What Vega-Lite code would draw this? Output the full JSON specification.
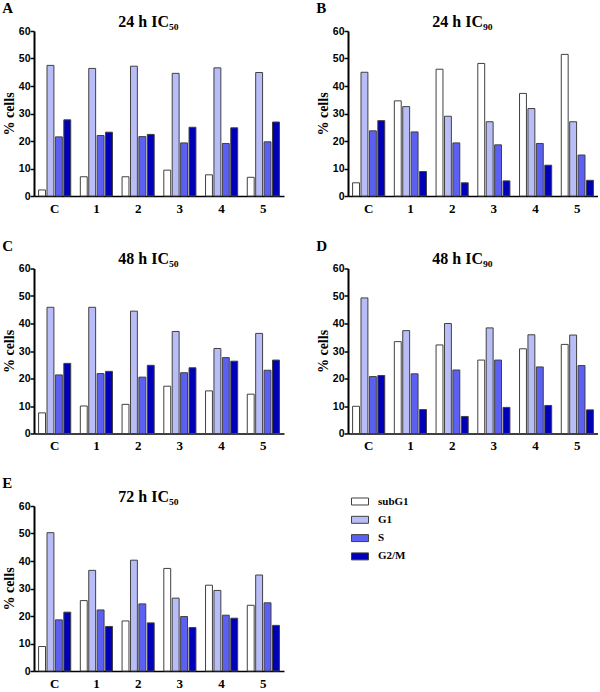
{
  "$schema": "https://vega.github.io/schema/vega-lite/v6.json",
  "background": "white",
  "padding": {"left": 2, "top": 1, "right": 0, "bottom": 0},
  "data": {"values": [
    {"p":"A","g":"C","ph":"subG1","v":2.2},{"p":"A","g":"C","ph":"G1","v":47.5},{"p":"A","g":"C","ph":"S","v":21.5},{"p":"A","g":"C","ph":"G2/M","v":27.7},
    {"p":"A","g":"1","ph":"subG1","v":7.0},{"p":"A","g":"1","ph":"G1","v":46.4},{"p":"A","g":"1","ph":"S","v":22.0},{"p":"A","g":"1","ph":"G2/M","v":23.2},
    {"p":"A","g":"2","ph":"subG1","v":7.0},{"p":"A","g":"2","ph":"G1","v":47.2},{"p":"A","g":"2","ph":"S","v":21.6},{"p":"A","g":"2","ph":"G2/M","v":22.4},
    {"p":"A","g":"3","ph":"subG1","v":9.4},{"p":"A","g":"3","ph":"G1","v":44.6},{"p":"A","g":"3","ph":"S","v":19.3},{"p":"A","g":"3","ph":"G2/M","v":25.0},
    {"p":"A","g":"4","ph":"subG1","v":7.7},{"p":"A","g":"4","ph":"G1","v":46.6},{"p":"A","g":"4","ph":"S","v":19.1},{"p":"A","g":"4","ph":"G2/M","v":24.8},
    {"p":"A","g":"5","ph":"subG1","v":6.8},{"p":"A","g":"5","ph":"G1","v":44.9},{"p":"A","g":"5","ph":"S","v":19.7},{"p":"A","g":"5","ph":"G2/M","v":26.9},
    {"p":"B","g":"C","ph":"subG1","v":4.8},{"p":"B","g":"C","ph":"G1","v":45.0},{"p":"B","g":"C","ph":"S","v":23.7},{"p":"B","g":"C","ph":"G2/M","v":27.4},
    {"p":"B","g":"1","ph":"subG1","v":34.6},{"p":"B","g":"1","ph":"G1","v":32.5},{"p":"B","g":"1","ph":"S","v":23.3},{"p":"B","g":"1","ph":"G2/M","v":8.9},
    {"p":"B","g":"2","ph":"subG1","v":46.1},{"p":"B","g":"2","ph":"G1","v":29.0},{"p":"B","g":"2","ph":"S","v":19.3},{"p":"B","g":"2","ph":"G2/M","v":4.8},
    {"p":"B","g":"3","ph":"subG1","v":48.2},{"p":"B","g":"3","ph":"G1","v":27.0},{"p":"B","g":"3","ph":"S","v":18.6},{"p":"B","g":"3","ph":"G2/M","v":5.5},
    {"p":"B","g":"4","ph":"subG1","v":37.3},{"p":"B","g":"4","ph":"G1","v":31.8},{"p":"B","g":"4","ph":"S","v":19.1},{"p":"B","g":"4","ph":"G2/M","v":11.2},
    {"p":"B","g":"5","ph":"subG1","v":51.5},{"p":"B","g":"5","ph":"G1","v":27.0},{"p":"B","g":"5","ph":"S","v":14.9},{"p":"B","g":"5","ph":"G2/M","v":5.7},
    {"p":"C","g":"C","ph":"subG1","v":7.5},{"p":"C","g":"C","ph":"G1","v":45.9},{"p":"C","g":"C","ph":"S","v":21.3},{"p":"C","g":"C","ph":"G2/M","v":25.5},
    {"p":"C","g":"1","ph":"subG1","v":10.0},{"p":"C","g":"1","ph":"G1","v":45.9},{"p":"C","g":"1","ph":"S","v":21.8},{"p":"C","g":"1","ph":"G2/M","v":22.6},
    {"p":"C","g":"2","ph":"subG1","v":10.6},{"p":"C","g":"2","ph":"G1","v":44.5},{"p":"C","g":"2","ph":"S","v":20.5},{"p":"C","g":"2","ph":"G2/M","v":24.8},
    {"p":"C","g":"3","ph":"subG1","v":17.2},{"p":"C","g":"3","ph":"G1","v":37.1},{"p":"C","g":"3","ph":"S","v":22.1},{"p":"C","g":"3","ph":"G2/M","v":23.9},
    {"p":"C","g":"4","ph":"subG1","v":15.5},{"p":"C","g":"4","ph":"G1","v":30.9},{"p":"C","g":"4","ph":"S","v":27.6},{"p":"C","g":"4","ph":"G2/M","v":26.3},
    {"p":"C","g":"5","ph":"subG1","v":14.3},{"p":"C","g":"5","ph":"G1","v":36.4},{"p":"C","g":"5","ph":"S","v":23.0},{"p":"C","g":"5","ph":"G2/M","v":26.7},
    {"p":"D","g":"C","ph":"subG1","v":9.9},{"p":"D","g":"C","ph":"G1","v":49.3},{"p":"D","g":"C","ph":"S","v":20.7},{"p":"D","g":"C","ph":"G2/M","v":21.1},
    {"p":"D","g":"1","ph":"subG1","v":33.4},{"p":"D","g":"1","ph":"G1","v":37.4},{"p":"D","g":"1","ph":"S","v":21.7},{"p":"D","g":"1","ph":"G2/M","v":8.7},
    {"p":"D","g":"2","ph":"subG1","v":32.2},{"p":"D","g":"2","ph":"G1","v":40.0},{"p":"D","g":"2","ph":"S","v":23.1},{"p":"D","g":"2","ph":"G2/M","v":6.2},
    {"p":"D","g":"3","ph":"subG1","v":26.7},{"p":"D","g":"3","ph":"G1","v":38.4},{"p":"D","g":"3","ph":"S","v":26.7},{"p":"D","g":"3","ph":"G2/M","v":9.5},
    {"p":"D","g":"4","ph":"subG1","v":30.8},{"p":"D","g":"4","ph":"G1","v":35.9},{"p":"D","g":"4","ph":"S","v":24.2},{"p":"D","g":"4","ph":"G2/M","v":10.2},
    {"p":"D","g":"5","ph":"subG1","v":32.4},{"p":"D","g":"5","ph":"G1","v":35.8},{"p":"D","g":"5","ph":"S","v":24.7},{"p":"D","g":"5","ph":"G2/M","v":8.6},
    {"p":"E","g":"C","ph":"subG1","v":8.9},{"p":"E","g":"C","ph":"G1","v":50.3},{"p":"E","g":"C","ph":"S","v":18.6},{"p":"E","g":"C","ph":"G2/M","v":21.4},
    {"p":"E","g":"1","ph":"subG1","v":25.6},{"p":"E","g":"1","ph":"G1","v":36.6},{"p":"E","g":"1","ph":"S","v":22.2},{"p":"E","g":"1","ph":"G2/M","v":16.2},
    {"p":"E","g":"2","ph":"subG1","v":18.2},{"p":"E","g":"2","ph":"G1","v":40.3},{"p":"E","g":"2","ph":"S","v":24.4},{"p":"E","g":"2","ph":"G2/M","v":17.5},
    {"p":"E","g":"3","ph":"subG1","v":37.3},{"p":"E","g":"3","ph":"G1","v":26.5},{"p":"E","g":"3","ph":"S","v":19.8},{"p":"E","g":"3","ph":"G2/M","v":15.8},
    {"p":"E","g":"4","ph":"subG1","v":31.2},{"p":"E","g":"4","ph":"G1","v":29.3},{"p":"E","g":"4","ph":"S","v":20.3},{"p":"E","g":"4","ph":"G2/M","v":19.2},
    {"p":"E","g":"5","ph":"subG1","v":23.9},{"p":"E","g":"5","ph":"G1","v":34.9},{"p":"E","g":"5","ph":"S","v":24.8},{"p":"E","g":"5","ph":"G2/M","v":16.6}
  ]},
  "config": {
    "view": {"stroke": null},
    "bar": {"stroke": "#404040", "strokeWidth": 1},
    "title": {"font": "Liberation Serif", "fontSize": 15, "fontWeight": "bold", "color": "black", "anchor": "start", "frame": "bounds", "offset": -3, "dx": 0},
    "axisX": {"domainColor": "black", "domainWidth": 1.5, "ticks": false, "grid": false, "labelFont": "Liberation Serif", "labelFontWeight": "bold", "labelFontSize": 13, "labelColor": "black", "labelAngle": 0, "labelPadding": 6,
      "titleFont": "Liberation Serif", "titleFontSize": 16, "titleFontWeight": "bold", "titleColor": "black", "titleX": 114, "titleY": -170, "titleAlign": "center", "titleBaseline": "alphabetic", "titleAngle": 0},
    "axisY": {"domainColor": "black", "domainWidth": 2, "tickColor": "black", "tickWidth": 1.5, "tickSize": 4, "grid": false, "values": [0,10,20,30,40,50,60],
      "labelFont": "Liberation Sans", "labelFontWeight": "bold", "labelFontSize": 10.5, "labelColor": "black", "labelPadding": 0,
      "titleFont": "Liberation Serif", "titleFontSize": 14, "titleFontWeight": "bold", "titleColor": "black", "titlePadding": 2},
    "legend": {"orient": "none", "legendX": 317, "legendY": 461.5, "title": null, "symbolType": "M-1,-0.41H1V0.41H-1Z", "symbolSize": 289, "symbolStrokeColor": "#404040", "symbolStrokeWidth": 1, "symbolOpacity": 1,
      "labelFont": "Liberation Serif", "labelFontWeight": "bold", "labelFontSize": 11, "labelColor": "black", "labelOffset": 9, "rowPadding": 3.3}
  },
  "columns": 2,
  "spacing": {"row": 72.5, "column": 64},
  "bounds": "flush",
  "concat": [
      {"width": 250, "height": 165, "title": "A", "transform": [{"filter": "datum.p == 'A'"}], "mark": "bar",
        "encoding": {
          "x": {"field": "g", "type": "nominal", "sort": ["C","1","2","3","4","5"], "scale": {"paddingInner": 0.23, "paddingOuter": 0.11}, "axis": {"title": "24 h  IC₅₀"}},
          "xOffset": {"field": "ph", "type": "nominal", "sort": ["subG1","G1","S","G2/M"], "scale": {"paddingInner": 0.18}},
          "y": {"field": "v", "type": "quantitative", "scale": {"domain": [0,60]}, "axis": {"title": "% cells"}},
          "color": {"field": "ph", "type": "nominal", "scale": {"domain": ["subG1","G1","S","G2/M"], "range": ["#ffffff","#b9bdf7","#5b5ff2","#0000b8"]}}
        }},
      {"width": 250, "height": 165, "title": "B", "transform": [{"filter": "datum.p == 'B'"}], "mark": "bar",
        "encoding": {
          "x": {"field": "g", "type": "nominal", "sort": ["C","1","2","3","4","5"], "scale": {"paddingInner": 0.23, "paddingOuter": 0.11}, "axis": {"title": "24 h  IC₉₀"}},
          "xOffset": {"field": "ph", "type": "nominal", "sort": ["subG1","G1","S","G2/M"], "scale": {"paddingInner": 0.18}},
          "y": {"field": "v", "type": "quantitative", "scale": {"domain": [0,60]}, "axis": {"title": "% cells"}},
          "color": {"field": "ph", "type": "nominal", "scale": {"domain": ["subG1","G1","S","G2/M"], "range": ["#ffffff","#b9bdf7","#5b5ff2","#0000b8"]}}
        }},
      {"width": 250, "height": 165, "title": "C", "transform": [{"filter": "datum.p == 'C'"}], "mark": "bar",
        "encoding": {
          "x": {"field": "g", "type": "nominal", "sort": ["C","1","2","3","4","5"], "scale": {"paddingInner": 0.23, "paddingOuter": 0.11}, "axis": {"title": "48 h  IC₅₀"}},
          "xOffset": {"field": "ph", "type": "nominal", "sort": ["subG1","G1","S","G2/M"], "scale": {"paddingInner": 0.18}},
          "y": {"field": "v", "type": "quantitative", "scale": {"domain": [0,60]}, "axis": {"title": "% cells"}},
          "color": {"field": "ph", "type": "nominal", "scale": {"domain": ["subG1","G1","S","G2/M"], "range": ["#ffffff","#b9bdf7","#5b5ff2","#0000b8"]}}
        }},
      {"width": 250, "height": 165, "title": "D", "transform": [{"filter": "datum.p == 'D'"}], "mark": "bar",
        "encoding": {
          "x": {"field": "g", "type": "nominal", "sort": ["C","1","2","3","4","5"], "scale": {"paddingInner": 0.23, "paddingOuter": 0.11}, "axis": {"title": "48 h  IC₉₀"}},
          "xOffset": {"field": "ph", "type": "nominal", "sort": ["subG1","G1","S","G2/M"], "scale": {"paddingInner": 0.18}},
          "y": {"field": "v", "type": "quantitative", "scale": {"domain": [0,60]}, "axis": {"title": "% cells"}},
          "color": {"field": "ph", "type": "nominal", "scale": {"domain": ["subG1","G1","S","G2/M"], "range": ["#ffffff","#b9bdf7","#5b5ff2","#0000b8"]}}
        }},
      {"width": 250, "height": 165, "title": "E", "transform": [{"filter": "datum.p == 'E'"}], "mark": "bar",
        "encoding": {
          "x": {"field": "g", "type": "nominal", "sort": ["C","1","2","3","4","5"], "scale": {"paddingInner": 0.23, "paddingOuter": 0.11}, "axis": {"title": "72 h  IC₅₀"}},
          "xOffset": {"field": "ph", "type": "nominal", "sort": ["subG1","G1","S","G2/M"], "scale": {"paddingInner": 0.18}},
          "y": {"field": "v", "type": "quantitative", "scale": {"domain": [0,60]}, "axis": {"title": "% cells"}},
          "color": {"field": "ph", "type": "nominal", "scale": {"domain": ["subG1","G1","S","G2/M"], "range": ["#ffffff","#b9bdf7","#5b5ff2","#0000b8"]}}
        }}
  ]
}
